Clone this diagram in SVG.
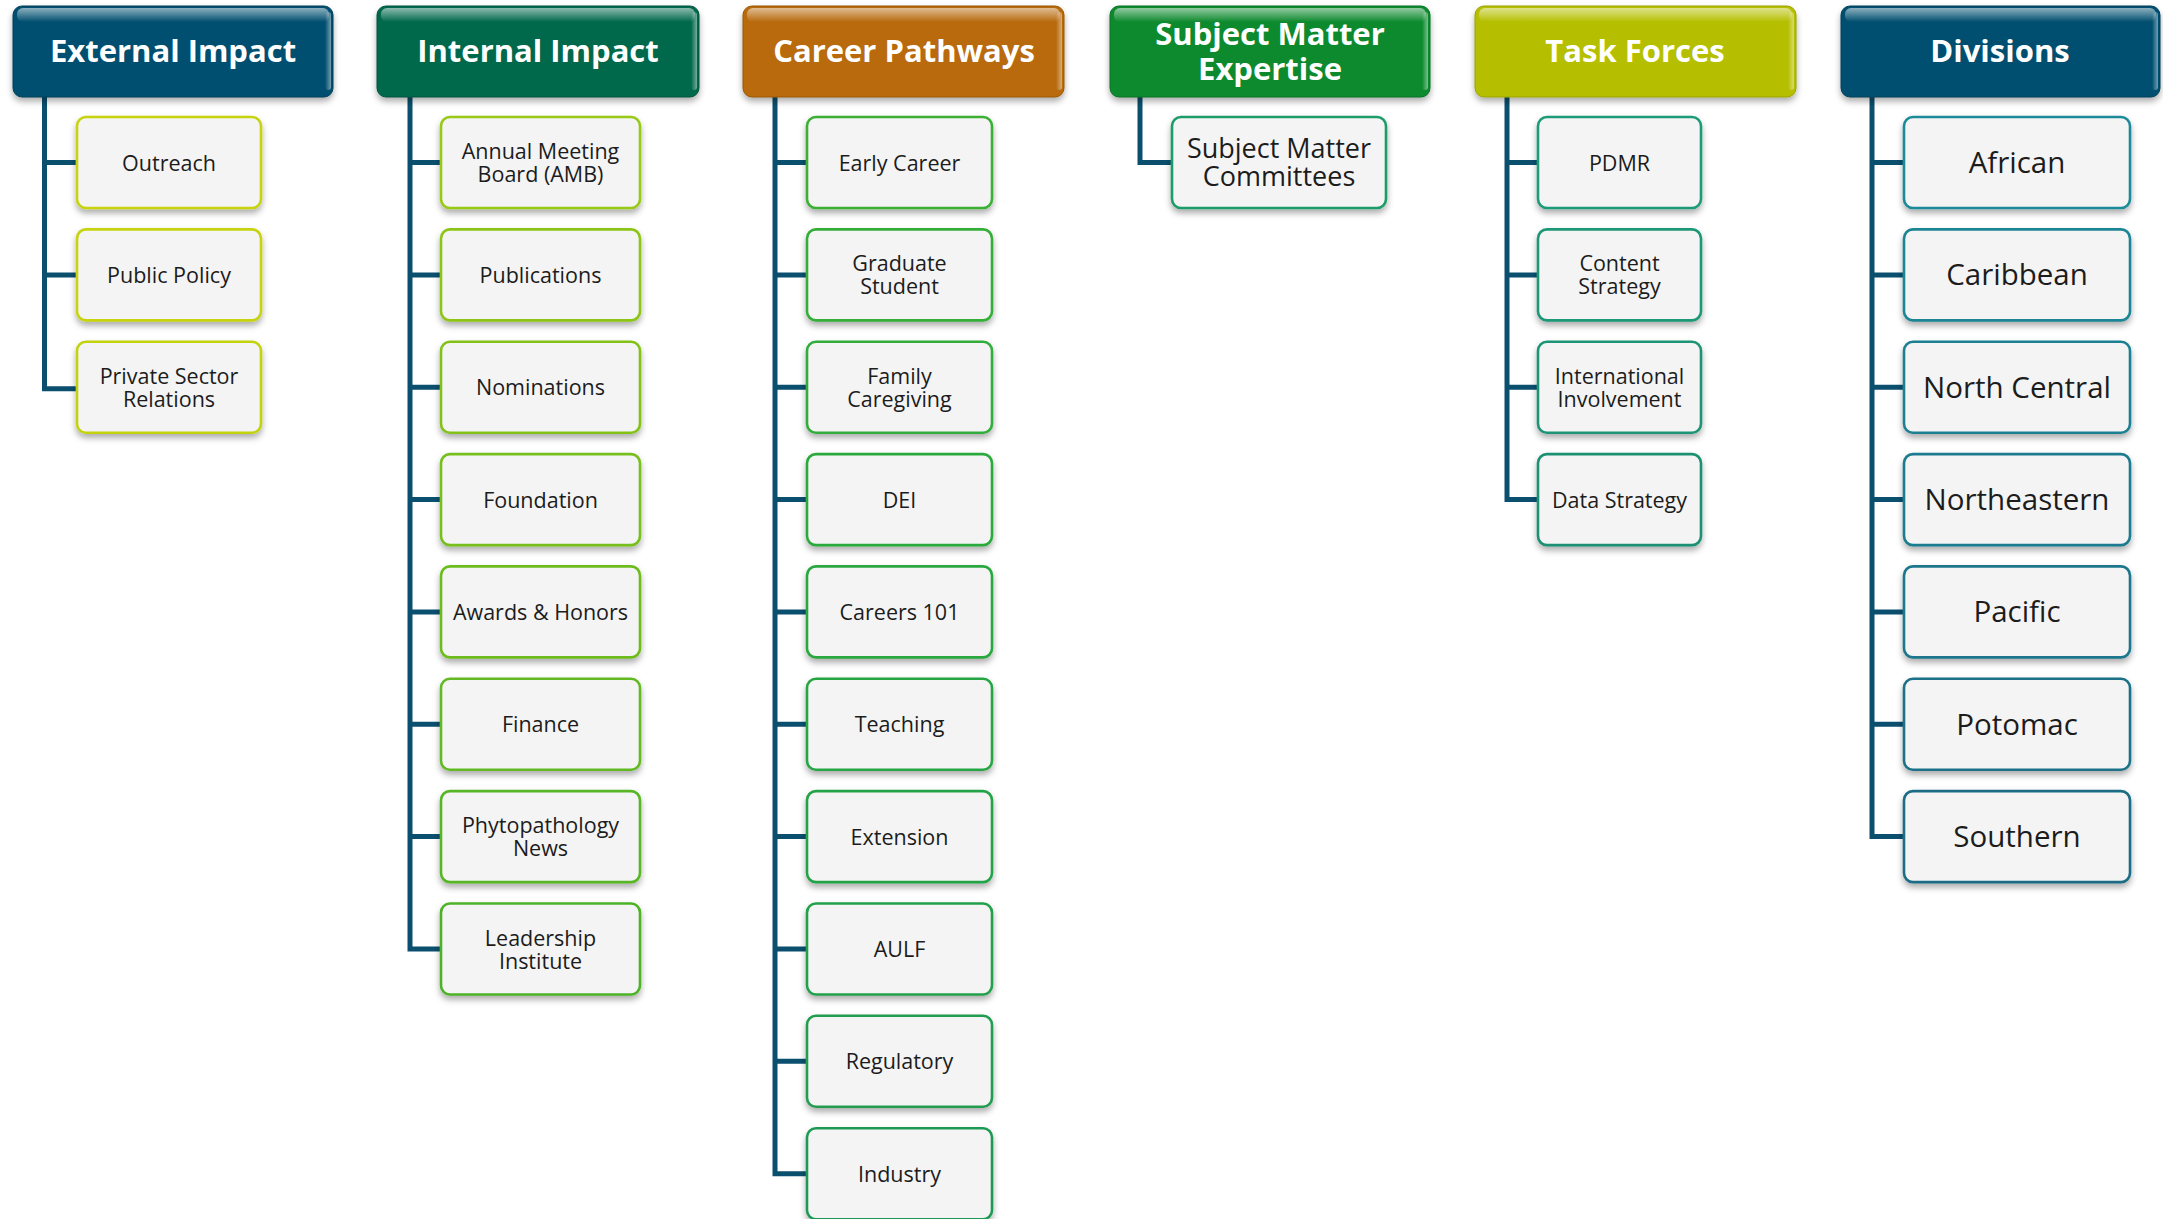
<svg xmlns="http://www.w3.org/2000/svg" width="2163" height="1219" viewBox="0 0 2163 1219">
<defs>
<filter id="sh" x="-10%" y="-10%" width="125%" height="135%">
<feDropShadow dx="0" dy="4" stdDeviation="3" flood-color="#000" flood-opacity="0.32"/>
</filter>
<linearGradient id="gloss" x1="0" y1="0" x2="0" y2="1">
<stop offset="0" stop-color="#fff" stop-opacity="0.55"/>
<stop offset="1" stop-color="#fff" stop-opacity="0"/>
</linearGradient>
<linearGradient id="edge" x1="0" y1="0" x2="1" y2="0">
<stop offset="0" stop-color="#fff" stop-opacity="0"/>
<stop offset="1" stop-color="#fff" stop-opacity="0.45"/>
</linearGradient>
</defs>
<style>
.hb{stroke-width:1}
.ht{font-family:"Open Sans","Liberation Sans",sans-serif;font-weight:700;font-size:31px;fill:#fff;text-anchor:middle}
.cb{fill:#f4f4f4;stroke-width:2.6}
.ct{font-family:"Open Sans","Liberation Sans",sans-serif;font-size:21.5px;fill:#1c1c1c;text-anchor:middle}
.cm{font-size:27px}
.cl{font-size:29.5px}
.conn{fill:none;stroke:#0b4f6e;stroke-width:5;stroke-linejoin:miter;stroke-linecap:butt}
</style>

<g id="connectors">
<path class="conn" d="M44.5,97 V388.7 H77 M44.5,162.5 H77 M44.5,274.9 H77"/>
<path class="conn" d="M410,97 V949 H441 M410,162.5 H441 M410,274.9 H441 M410,387.2 H441 M410,499.6 H441 M410,611.9 H441 M410,724.3 H441 M410,836.6 H441"/>
<path class="conn" d="M775,97 V1173.7 H807 M775,162.5 H807 M775,274.9 H807 M775,387.2 H807 M775,499.6 H807 M775,611.9 H807 M775,724.3 H807 M775,836.6 H807 M775,949 H807 M775,1061.3 H807"/>
<path class="conn" d="M1140,97 V162.5 H1172"/>
<path class="conn" d="M1507,97 V499.6 H1538 M1507,162.5 H1538 M1507,274.9 H1538 M1507,387.2 H1538"/>
<path class="conn" d="M1872,97 V836.6 H1904 M1872,162.5 H1904 M1872,274.9 H1904 M1872,387.2 H1904 M1872,499.6 H1904 M1872,611.9 H1904 M1872,724.3 H1904"/>
</g>

<!-- Headers -->
<g id="h-external">
<rect x="13" y="6" width="320" height="91" rx="9" fill="#03506f" stroke="#033f58" class="hb" filter="url(#sh)"/>
<rect x="17" y="8" width="312" height="14" rx="6" fill="url(#gloss)"/>
<rect x="325" y="12" width="6" height="78" rx="3" fill="url(#edge)"/>
<text class="ht" x="173" y="62">External Impact</text>
</g>
<g id="h-internal">
<rect x="377" y="6" width="322" height="91" rx="9" fill="#05684c" stroke="#04523c" class="hb" filter="url(#sh)"/>
<rect x="381" y="8" width="314" height="14" rx="6" fill="url(#gloss)"/>
<rect x="691" y="12" width="6" height="78" rx="3" fill="url(#edge)"/>
<text class="ht" x="538" y="62">Internal Impact</text>
</g>
<g id="h-career">
<rect x="743" y="6" width="321" height="91" rx="9" fill="#b86a08" stroke="#985606" class="hb" filter="url(#sh)"/>
<rect x="747" y="8" width="313" height="14" rx="6" fill="url(#gloss)"/>
<rect x="1056" y="12" width="6" height="78" rx="3" fill="url(#edge)"/>
<text class="ht" x="904" y="62">Career Pathways</text>
</g>
<g id="h-sme">
<rect x="1110" y="6" width="320" height="91" rx="9" fill="#0a8a2e" stroke="#077024" class="hb" filter="url(#sh)"/>
<rect x="1114" y="8" width="312" height="14" rx="6" fill="url(#gloss)"/>
<rect x="1422" y="12" width="6" height="78" rx="3" fill="url(#edge)"/>
<text class="ht" x="1270" y="45">Subject Matter<tspan x="1270" dy="35">Expertise</tspan></text>
</g>
<g id="h-task">
<rect x="1475" y="6" width="321" height="91" rx="9" fill="#b5bf02" stroke="#9aa300" class="hb" filter="url(#sh)"/>
<rect x="1479" y="8" width="313" height="14" rx="6" fill="url(#gloss)"/>
<rect x="1788" y="12" width="6" height="78" rx="3" fill="url(#edge)"/>
<text class="ht" x="1635" y="62">Task Forces</text>
</g>
<g id="h-divisions">
<rect x="1841" y="6" width="319" height="91" rx="9" fill="#03506f" stroke="#033f58" class="hb" filter="url(#sh)"/>
<rect x="1845" y="8" width="311" height="14" rx="6" fill="url(#gloss)"/>
<rect x="2152" y="12" width="6" height="78" rx="3" fill="url(#edge)"/>
<text class="ht" x="2000" y="62">Divisions</text>
</g>

<!-- External Impact children -->
<g id="n-outreach"><rect class="cb" x="77" y="117" width="184" height="91" rx="9" stroke="#c6d30c" filter="url(#sh)"/><text class="ct" x="169" y="170.5">Outreach</text></g>
<g id="n-public-policy"><rect class="cb" x="77" y="229.4" width="184" height="91" rx="9" stroke="#c6d30c" filter="url(#sh)"/><text class="ct" x="169" y="282.9">Public Policy</text></g>
<g id="n-private-sector"><rect class="cb" x="77" y="341.7" width="184" height="91" rx="9" stroke="#c2d20e" filter="url(#sh)"/><text class="ct" x="169" y="383.7">Private Sector<tspan x="169" dy="23">Relations</tspan></text></g>

<!-- Internal Impact children -->
<g id="n-amb"><rect class="cb" x="441" y="117" width="199" height="91" rx="9" stroke="#97c912" filter="url(#sh)"/><text class="ct" x="540.5" y="159">Annual Meeting<tspan x="540.5" dy="23">Board (AMB)</tspan></text></g>
<g id="n-publications"><rect class="cb" x="441" y="229.4" width="199" height="91" rx="9" stroke="#8cc516" filter="url(#sh)"/><text class="ct" x="540.5" y="282.9">Publications</text></g>
<g id="n-nominations"><rect class="cb" x="441" y="341.7" width="199" height="91" rx="9" stroke="#82c219" filter="url(#sh)"/><text class="ct" x="540.5" y="395.2">Nominations</text></g>
<g id="n-foundation"><rect class="cb" x="441" y="454.1" width="199" height="91" rx="9" stroke="#76bf1c" filter="url(#sh)"/><text class="ct" x="540.5" y="507.6">Foundation</text></g>
<g id="n-awards"><rect class="cb" x="441" y="566.4" width="199" height="91" rx="9" stroke="#6cbc1f" filter="url(#sh)"/><text class="ct" x="540.5" y="619.9">Awards &amp; Honors</text></g>
<g id="n-finance"><rect class="cb" x="441" y="678.8" width="199" height="91" rx="9" stroke="#62b922" filter="url(#sh)"/><text class="ct" x="540.5" y="732.3">Finance</text></g>
<g id="n-phyto-news"><rect class="cb" x="441" y="791.1" width="199" height="91" rx="9" stroke="#57b625" filter="url(#sh)"/><text class="ct" x="540.5" y="833.1">Phytopathology<tspan x="540.5" dy="23">News</tspan></text></g>
<g id="n-leadership"><rect class="cb" x="441" y="903.5" width="199" height="91" rx="9" stroke="#4db328" filter="url(#sh)"/><text class="ct" x="540.5" y="945.5">Leadership<tspan x="540.5" dy="23">Institute</tspan></text></g>

<!-- Career Pathways children -->
<g id="n-early-career"><rect class="cb" x="807" y="117" width="185" height="91" rx="9" stroke="#3ab035" filter="url(#sh)"/><text class="ct" x="899.5" y="170.5">Early Career</text></g>
<g id="n-grad-student"><rect class="cb" x="807" y="229.4" width="185" height="91" rx="9" stroke="#35ae38" filter="url(#sh)"/><text class="ct" x="899.5" y="271.4">Graduate<tspan x="899.5" dy="23">Student</tspan></text></g>
<g id="n-family"><rect class="cb" x="807" y="341.7" width="185" height="91" rx="9" stroke="#30ac3a" filter="url(#sh)"/><text class="ct" x="899.5" y="383.7">Family<tspan x="899.5" dy="23">Caregiving</tspan></text></g>
<g id="n-dei"><rect class="cb" x="807" y="454.1" width="185" height="91" rx="9" stroke="#2caa3c" filter="url(#sh)"/><text class="ct" x="899.5" y="507.6">DEI</text></g>
<g id="n-careers101"><rect class="cb" x="807" y="566.4" width="185" height="91" rx="9" stroke="#29a83f" filter="url(#sh)"/><text class="ct" x="899.5" y="619.9">Careers 101</text></g>
<g id="n-teaching"><rect class="cb" x="807" y="678.8" width="185" height="91" rx="9" stroke="#26a643" filter="url(#sh)"/><text class="ct" x="899.5" y="732.3">Teaching</text></g>
<g id="n-extension"><rect class="cb" x="807" y="791.1" width="185" height="91" rx="9" stroke="#24a347" filter="url(#sh)"/><text class="ct" x="899.5" y="844.6">Extension</text></g>
<g id="n-aulf"><rect class="cb" x="807" y="903.5" width="185" height="91" rx="9" stroke="#22a04b" filter="url(#sh)"/><text class="ct" x="899.5" y="957">AULF</text></g>
<g id="n-regulatory"><rect class="cb" x="807" y="1015.8" width="185" height="91" rx="9" stroke="#209d4f" filter="url(#sh)"/><text class="ct" x="899.5" y="1069.3">Regulatory</text></g>
<g id="n-industry"><rect class="cb" x="807" y="1128.2" width="185" height="91" rx="9" stroke="#1e9a54" filter="url(#sh)"/><text class="ct" x="899.5" y="1181.7">Industry</text></g>

<!-- Subject Matter Expertise child -->
<g id="n-smc"><rect class="cb" x="1172" y="117" width="214" height="91" rx="9" stroke="#1e9c68" filter="url(#sh)"/><text class="ct cm" x="1279" y="157.5">Subject Matter<tspan x="1279" dy="28">Committees</tspan></text></g>

<!-- Task Forces children -->
<g id="n-pdmr"><rect class="cb" x="1538" y="117" width="163" height="91" rx="9" stroke="#1e9b78" filter="url(#sh)"/><text class="ct" x="1619.5" y="170.5">PDMR</text></g>
<g id="n-content"><rect class="cb" x="1538" y="229.4" width="163" height="91" rx="9" stroke="#1c9876" filter="url(#sh)"/><text class="ct" x="1619.5" y="271.4">Content<tspan x="1619.5" dy="23">Strategy</tspan></text></g>
<g id="n-international"><rect class="cb" x="1538" y="341.7" width="163" height="91" rx="9" stroke="#1b9474" filter="url(#sh)"/><text class="ct" x="1619.5" y="383.7">International<tspan x="1619.5" dy="23">Involvement</tspan></text></g>
<g id="n-data"><rect class="cb" x="1538" y="454.1" width="163" height="91" rx="9" stroke="#1a9072" filter="url(#sh)"/><text class="ct" x="1619.5" y="507.6">Data Strategy</text></g>

<!-- Divisions children -->
<g id="n-african"><rect class="cb" x="1904" y="117" width="226" height="91" rx="9" stroke="#1c8a98" filter="url(#sh)"/><text class="ct cl" x="2017" y="173">African</text></g>
<g id="n-caribbean"><rect class="cb" x="1904" y="229.4" width="226" height="91" rx="9" stroke="#1c8595" filter="url(#sh)"/><text class="ct cl" x="2017" y="285.4">Caribbean</text></g>
<g id="n-north-central"><rect class="cb" x="1904" y="341.7" width="226" height="91" rx="9" stroke="#1c8092" filter="url(#sh)"/><text class="ct cl" x="2017" y="397.7">North Central</text></g>
<g id="n-northeastern"><rect class="cb" x="1904" y="454.1" width="226" height="91" rx="9" stroke="#1c7b8f" filter="url(#sh)"/><text class="ct cl" x="2017" y="510.1">Northeastern</text></g>
<g id="n-pacific"><rect class="cb" x="1904" y="566.4" width="226" height="91" rx="9" stroke="#1b768c" filter="url(#sh)"/><text class="ct cl" x="2017" y="622.4">Pacific</text></g>
<g id="n-potomac"><rect class="cb" x="1904" y="678.8" width="226" height="91" rx="9" stroke="#1b7189" filter="url(#sh)"/><text class="ct cl" x="2017" y="734.8">Potomac</text></g>
<g id="n-southern"><rect class="cb" x="1904" y="791.1" width="226" height="91" rx="9" stroke="#1b6c86" filter="url(#sh)"/><text class="ct cl" x="2017" y="847.1">Southern</text></g>
</svg>
